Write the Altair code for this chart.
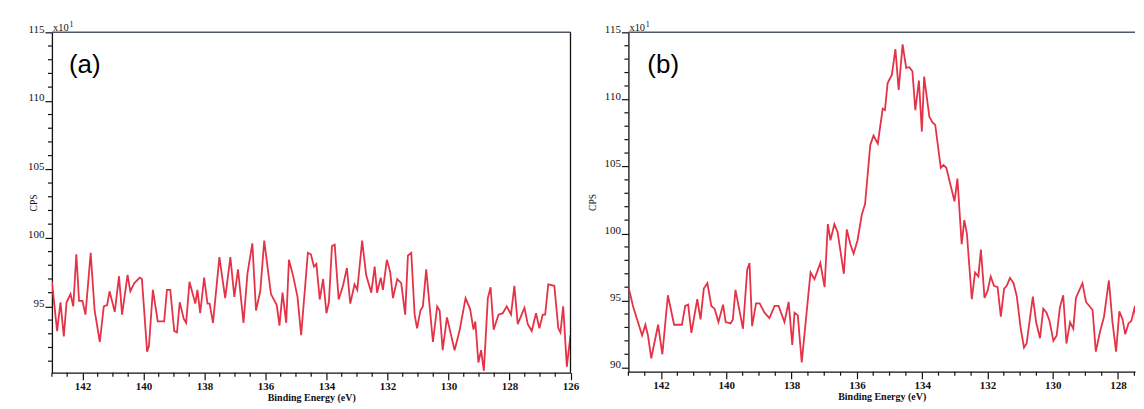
import altair as alt
import pandas as pd

# ---------------- data ----------------
energy_a = [143.00, 142.83, 142.72, 142.61, 142.52, 142.39, 142.30, 142.20, 142.11, 142.00,
            141.90, 141.73, 141.60, 141.43, 141.30, 141.19, 141.11, 140.94, 140.80, 140.70,
            140.52, 140.43, 140.30, 140.12, 140.05, 139.88, 139.82, 139.69, 139.53, 139.32,
            139.23, 139.12, 138.99, 138.90, 138.81, 138.68, 138.60, 138.49, 138.30, 138.23,
            138.14, 138.01, 137.90, 137.83, 137.72, 137.51, 137.32, 137.15, 137.02, 136.90,
            136.72, 136.59, 136.43, 136.31, 136.17, 136.04, 135.82, 135.63, 135.54, 135.44,
            135.32, 135.23, 135.08, 134.95, 134.83, 134.61, 134.51, 134.41, 134.33, 134.22,
            134.11, 134.00, 133.92, 133.82, 133.73, 133.60, 133.46, 133.33, 133.22, 133.08,
            132.99, 132.83, 132.70, 132.53, 132.42, 132.34, 132.22, 132.15, 132.02, 131.91,
            131.82, 131.68, 131.55, 131.42, 131.33, 131.22, 131.11, 131.03, 130.92, 130.84,
            130.73, 130.51, 130.37, 130.29, 130.19, 130.05, 129.80, 129.64, 129.44, 129.29,
            129.18, 129.12, 129.02, 128.93, 128.84, 128.71, 128.62, 128.52, 128.36, 128.22,
            128.09, 127.95, 127.84, 127.73, 127.51, 127.40, 127.27, 127.13, 127.02, 126.91,
            126.83, 126.73, 126.53, 126.40, 126.33, 126.24, 126.12, 126.00]
cps_a = [96.8, 93.2, 95.3, 92.8, 95.3, 95.9, 95.0, 98.8, 95.4, 95.4,
         94.4, 98.9, 94.7, 92.4, 95.0, 95.1, 96.1, 94.6, 97.2, 94.4,
         97.3, 96.1, 96.7, 97.1, 97.0, 91.7, 92.1, 96.2, 93.9, 93.9,
         96.2, 96.2, 93.2, 93.1, 95.3, 94.1, 93.8, 96.8, 95.2, 96.2,
         94.5, 97.1, 95.2, 95.2, 93.8, 98.6, 95.6, 98.6, 95.7, 97.7,
         93.8, 97.4, 99.6, 94.7, 96.1, 99.8, 95.9, 95.1, 93.6, 96.0,
         93.8, 98.4, 97.1, 95.7, 92.9, 98.9, 98.8, 97.9, 98.1, 95.5,
         97.0, 94.5, 95.3, 99.4, 99.5, 95.5, 96.5, 97.8, 95.2, 96.6,
         96.2, 99.8, 97.3, 96.0, 97.9, 96.0, 97.1, 96.2, 98.4, 97.5,
         95.6, 97.0, 96.7, 94.4, 98.7, 98.9, 94.4, 93.4, 94.7, 95.0,
         97.7, 92.4, 95.0, 94.7, 91.8, 94.2, 91.8, 93.2, 95.6, 94.8,
         93.3, 93.9, 90.9, 91.8, 90.3, 95.6, 96.4, 93.3, 94.4, 94.5,
         95.0, 94.4, 96.5, 93.7, 94.9, 93.7, 93.2, 94.5, 93.4, 94.4,
         94.4, 96.6, 96.5, 93.4, 93.1, 95.0, 90.6, 92.9]

energy_b = [143.00, 142.86, 142.72, 142.58, 142.48, 142.40, 142.30, 142.09, 141.96, 141.79,
            141.60, 141.48, 141.36, 141.26, 141.17, 141.07, 140.89, 140.79, 140.69, 140.58,
            140.46, 140.36, 140.24, 140.10, 140.02, 139.87, 139.80, 139.72, 139.49, 139.36,
            139.29, 139.21, 139.09, 138.98, 138.83, 138.68, 138.52, 138.40, 138.22, 138.09,
            137.98, 137.91, 137.81, 137.69, 137.42, 137.30, 137.12, 136.99, 136.89, 136.81,
            136.69, 136.59, 136.40, 136.31, 136.20, 136.10, 135.98, 135.85, 135.75, 135.59,
            135.49, 135.36, 135.21, 135.14, 135.06,
            135.00, 134.93, 134.82, 134.72, 134.60, 134.49, 134.39, 134.30, 134.21, 134.10,
            134.01, 133.94, 133.78, 133.69, 133.60, 133.43, 133.35, 133.26, 133.16, 133.01,
            132.92, 132.79, 132.71, 132.63, 132.48, 132.38, 132.28, 132.20, 132.09, 132.00,
            131.90, 131.80, 131.69, 131.59, 131.49, 131.41, 131.31, 131.20, 131.10, 130.98,
            130.88, 130.80, 130.61, 130.51, 130.39, 130.29, 130.19, 130.10, 129.98, 129.88,
            129.78, 129.68, 129.58, 129.47, 129.37, 129.29, 129.09, 128.98, 128.88, 128.78,
            128.68, 128.55, 128.43, 128.28, 128.17, 128.06, 127.96, 127.86, 127.78, 127.68,
            127.59, 127.48, 127.38, 127.31, 127.23]
cps_b = [96.05, 94.6, 93.5, 92.4, 93.2, 92.4, 90.7, 93.2, 91.0, 95.4,
         93.2, 93.2, 93.2, 94.6, 94.7, 92.6, 95.1, 93.6, 95.9, 96.3,
         94.6, 94.4, 93.4, 94.7, 93.4, 93.3, 93.6, 95.8, 92.9, 97.3,
         97.8, 93.1, 94.8, 94.8, 94.1, 93.7, 94.6, 94.6, 93.4, 94.9,
         91.7, 94.1, 93.9, 90.4, 97.1, 96.6, 97.8, 96.0, 100.7, 99.5,
         100.7, 100.1, 97.0, 100.3, 99.2, 98.5, 99.5, 101.4, 102.2, 106.6,
         107.3, 106.7, 109.3, 109.2, 111.2,
         111.5, 111.8, 113.75, 110.7, 114.1, 112.35, 112.4, 112.1, 109.2, 111.4,
         107.6, 111.7, 108.7, 108.3, 108.1, 104.9, 105.1, 104.9, 103.9, 102.4,
         104.1, 99.2, 101.0, 100.0, 95.1, 97.1, 96.8, 98.8, 95.2, 95.7,
         96.8, 96.1, 96.0, 93.8, 95.9, 96.1, 96.7, 96.3, 95.3, 92.9,
         91.5, 91.8, 95.3, 93.4, 92.2, 94.4, 94.1, 93.5, 92.0, 92.4,
         94.5, 95.4, 91.8, 93.4, 92.9, 95.2, 96.3, 94.9, 94.6, 94.3,
         91.2, 92.7, 93.8, 96.5, 93.4, 91.2, 94.2, 93.6, 92.5, 93.3,
         93.5, 94.6, 90.9, 90.5, 91.0]

panel_labels = ["(a)", "(b)"]
x_domains = [(126.0, 143.0), (127.48, 143.0)]
y_domains = [(90.16, 115.0), (89.7, 115.0)]
x_major_a = [126, 128, 130, 132, 134, 136, 138, 140, 142]
x_major_b = [128, 130, 132, 134, 136, 138, 140, 142]
y_major_a = [95, 100, 105, 110, 115]
y_major_b = [90, 95, 100, 105, 110, 115]
x_title = "Binding Energy (eV)"
y_title = "CPS"
mult_base = "x10"
mult_exp = "1"

LINE = "#e63246"
INK = "#111111"
FRAME = "#4e5866"
SERIF = "Liberation Serif"
MAJOR = 7
MINOR = 4


def panel(energy, cps, xdom, ydom, xmajor, ymajor, width, height, letter, letter_x, title_x,
          right_border):
    df = pd.DataFrame({"E": energy, "C": cps})
    # minor tick positions (axis furniture, every 0.5 eV and every 1 count unit)
    start = int(xdom[0] * 2 + 0.999) / 2.0
    xminor = []
    v = start
    while v <= xdom[1] + 1e-9:
        if abs(v / 2 - round(v / 2)) > 1e-6:
            xminor.append(v)
        v += 0.5
    yminor = [k for k in range(int(ydom[0]) + 1, int(ydom[1])) if k % 5 != 0]

    xs = alt.Scale(domain=list(xdom), reverse=True, nice=False, zero=False)
    ys = alt.Scale(domain=list(ydom), nice=False, zero=False)

    x_axis = alt.Axis(
        values=xmajor, format=".0f", tickSize=MAJOR,
        labelFont=SERIF, labelFontSize=11, labelFontWeight="bold", labelColor=INK,
        labelPadding=1, labelOverlap=False, labelFlush=False, grid=False,
        domainColor=INK, domainWidth=1.3, tickColor=INK, tickWidth=1.2,
        title=x_title, titleFont=SERIF, titleFontSize=10, titleFontWeight="bold",
        titleColor=INK, titlePadding=1,
    )
    y_axis = alt.Axis(
        values=ymajor, format=".0f", tickSize=MAJOR,
        labelFont=SERIF, labelFontSize=11, labelColor=INK, labelBaseline="alphabetic",
        labelPadding=1, labelOverlap=False, labelFlush=False, grid=False,
        domainColor=INK, domainWidth=1.3, tickColor=INK, tickWidth=1.2,
        title=y_title, titleFont=SERIF, titleFontSize=9.5, titleFontWeight="normal",
        titleColor=INK, titleAngle=270, titleX=title_x, titleY=height / 2,
        titleAlign="center", titleBaseline="middle",
    )

    line = alt.Chart(df).mark_line(color=LINE, strokeWidth=1.8, clip=True).encode(
        x=alt.X("E:Q", scale=xs, axis=x_axis),
        y=alt.Y("C:Q", scale=ys, axis=y_axis),
    )
    xminor_rules = alt.Chart(pd.DataFrame({"E": xminor})).mark_rule(
        color=INK, strokeWidth=1.2).encode(
        x=alt.X("E:Q", scale=xs, axis=x_axis),
        y=alt.value(height), y2=alt.value(height + MINOR))
    yminor_rules = alt.Chart(pd.DataFrame({"C": yminor})).mark_rule(
        color=INK, strokeWidth=1.2).encode(
        y=alt.Y("C:Q", scale=ys, axis=y_axis),
        x=alt.value(-MINOR), x2=alt.value(0))

    one = pd.DataFrame({"k": [0]})
    top_rule = alt.Chart(one).mark_rule(color=FRAME, strokeWidth=1.5).encode(
        x=alt.value(0), x2=alt.value(width), y=alt.value(0))
    letter_text = alt.Chart(one).mark_text(
        font="Liberation Sans", fontSize=26, align="left", baseline="middle", color="#000"
    ).encode(x=alt.value(letter_x), y=alt.value(33), text=alt.value(letter))
    mult_text = alt.Chart(one).mark_text(
        font=SERIF, fontSize=10.5, align="left", baseline="alphabetic", color=INK
    ).encode(x=alt.value(1), y=alt.value(-1), text=alt.value(mult_base))
    exp_text = alt.Chart(one).mark_text(
        font=SERIF, fontSize=8, align="left", baseline="alphabetic", color=INK
    ).encode(x=alt.value(17.5), y=alt.value(-5.5), text=alt.value(mult_exp))
    layers = [line, xminor_rules, yminor_rules, top_rule, letter_text, mult_text, exp_text]
    if right_border:
        layers.append(alt.Chart(one).mark_rule(color=INK, strokeWidth=1.3).encode(
            x=alt.value(width), y=alt.value(0), y2=alt.value(height)))
    return alt.layer(*layers).properties(width=width, height=height)


pa = panel(energy_a, cps_a, x_domains[0], y_domains[0], x_major_a, y_major_a,
           519.5, 341, panel_labels[0], 17, -18, True)
pb = panel(energy_b, cps_b, x_domains[1], y_domains[1], x_major_b, y_major_b,
           507.5, 340, panel_labels[1], 19, -36, False)

chart = alt.hconcat(pa, pb, spacing=8.5).properties(
    padding={"left": 19, "top": 12, "right": 0, "bottom": 0},
    background="white",
).configure_view(stroke=None)

chart.save("out.html", embed_options={"renderer": "svg", "actions": False})
